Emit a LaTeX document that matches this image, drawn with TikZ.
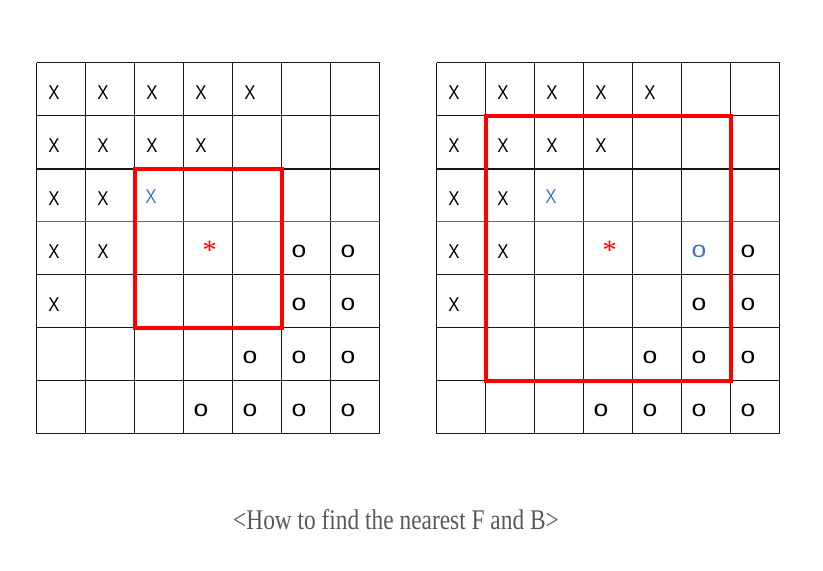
\documentclass[tikz,border=0pt]{standalone}
\usepackage{fontspec}
\setmainfont{Liberation Serif}
\newfontfamily\cellfont{Liberation Sans}
\definecolor{markblue}{HTML}{4472C4}
\definecolor{capgray}{HTML}{595959}
\definecolor{boxred}{HTML}{FF0000}
\newcommand{\mkX}{\scalebox{0.84}[1]{X}}
\newcommand{\mko}{\scalebox{1.15}[1]{o}}
\begin{document}
\begin{tikzpicture}[x=1pt,y=-1pt,
  gridline/.style={line width=1pt,draw=black!90},
  thickgrid/.style={line width=2pt,draw=black!92},
  softgrid/.style={line width=1pt,draw=black!60},
  redbox/.style={line width=4pt,draw=boxred},
  xmark/.style={inner sep=0pt,font=\cellfont\fontsize{20}{21}\selectfont},
  omark/.style={inner sep=0pt,font=\cellfont\fontsize{23}{24}\selectfont},
  starmark/.style={inner sep=0pt,anchor=base,text=boxred,font=\fontsize{28}{30}\selectfont},
  caption/.style={inner sep=0pt,anchor=base,text=capgray,font=\fontsize{28.5}{30}\selectfont}]
\useasboundingbox (0,0) rectangle (823,571);
\fill[white] (0,0) rectangle (823,571);
\def\gx{36.5}
\def\gy{62.5}
\def\cw{49}
\def\ch{53}
\foreach \ox/\pre in {0/L,400/R}{
  % vertical lines
  \foreach \c in {0,...,7}{
    \draw[gridline] ({\ox+\gx+\c*\cw},\gy) -- ({\ox+\gx+\c*\cw},{\gy+7*\ch});
  }
  % horizontal lines
  \foreach \r in {0,1,4,5,6,7}{
    \draw[gridline] ({\ox+\gx},{\gy+\r*\ch}) -- ({\ox+\gx+7*\cw},{\gy+\r*\ch});
  }
  \draw[thickgrid] ({\ox+\gx},{\gy+2*\ch}) -- ({\ox+\gx+7*\cw},{\gy+2*\ch});
  \draw[softgrid] ({\ox+\gx},{\gy+3*\ch}) -- ({\ox+\gx+7*\cw},{\gy+3*\ch});
  % X marks
  \foreach \r/\c in {0/0,0/1,0/2,0/3,0/4,1/0,1/1,1/2,1/3,2/0,2/1,3/0,3/1,4/0}{
    \node[xmark] (\pre x\r\c) at ({\ox+\gx+\c*\cw+17.5},{\gy+\r*\ch+29.7}) {\mkX};
  }
  \node[xmark,text=markblue] (\pre x22) at ({\ox+\gx+2*\cw+16.5},{\gy+2*\ch+28.3}) {\mkX};
  % o marks
  \foreach \r/\c in {3/6,4/5,4/6,5/4,5/5,5/6,6/3,6/4,6/5,6/6}{
    \node[omark] (\pre o\r\c) at ({\ox+\gx+\c*\cw+17.5},{\gy+\r*\ch+30.2}) {\mko};
  }
  % star
  \node[starmark] (\pre star) at ({\ox+\gx+3*\cw+26},{\gy+3*\ch+38}) {*};
}
\node[omark] (Lo35) at ({\gx+5*\cw+17.5},{\gy+3*\ch+30.2}) {\mko};
\node[omark,text=markblue] (Ro35) at ({400+\gx+5*\cw+17.5},{\gy+3*\ch+30.2}) {\mko};
% red search windows
\draw[redbox] ({\gx+2*\cw},{\gy+2*\ch}) rectangle ({\gx+5*\cw},{\gy+5*\ch});
\draw[redbox] ({400+\gx+1*\cw},{\gy+1*\ch}) rectangle ({400+\gx+6*\cw},{\gy+6*\ch});
% caption
\node[caption] (cap) at (396,529) {\scalebox{0.82}[1]{<How to find the nearest F and B>}};
\end{tikzpicture}
\end{document}
